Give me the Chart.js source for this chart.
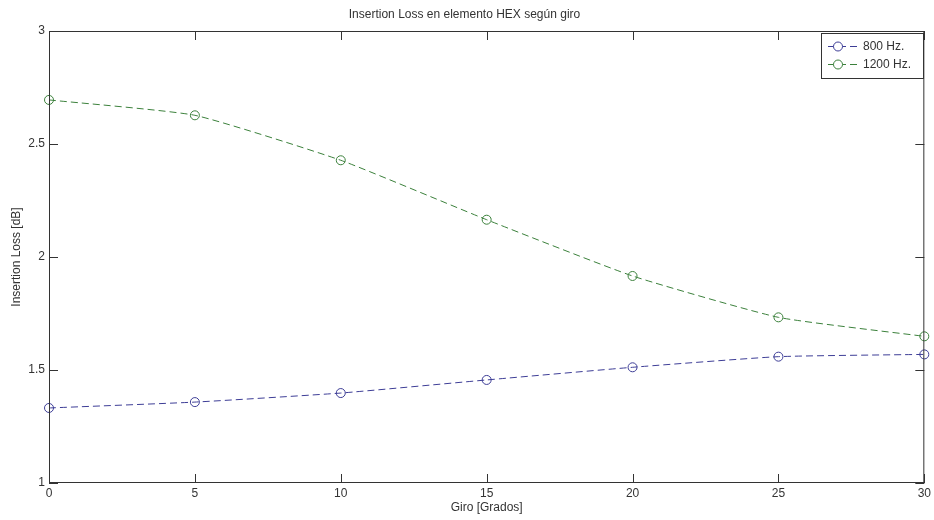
<!DOCTYPE html>
<html>
<head>
<meta charset="utf-8">
<script src="https://cdn.jsdelivr.net/npm/chart.js@4"></script>
<style>
  html, body { margin: 0; padding: 0; background: #fff; }
  #wrap { width: 934px; height: 520px; position: relative; }
</style>
</head>
<body>
<div id="wrap"><canvas id="chart"></canvas></div>
<script>
// rotation angle of the HEX element
const giroGrados = [0, 5, 10, 15, 20, 25, 30];
// insertion loss per frequency, dB
const il800 = [1.332, 1.358, 1.398, 1.456, 1.512, 1.559, 1.569];
const il1200 = [2.695, 2.627, 2.428, 2.165, 1.916, 1.733, 1.649];
const seriesNames = ['800 Hz.', '1200 Hz.'];
const yTicks = [1, 1.5, 2, 2.5, 3];

const AXIS = '#333333';
const FONT = "'Liberation Sans', Arial, sans-serif";

// closed box around the plot with inward tick marks on all four sides,
// plus a boxed legend in the upper right corner
const boxPlugin = {
  id: 'boxAxes',
  afterDatasetsDraw(chart) {
    const { ctx, chartArea: a, scales: { x, y } } = chart;
    const tl = 9;
    ctx.save();
    ctx.strokeStyle = AXIS;
    ctx.lineWidth = 1;
    ctx.strokeRect(a.left + 0.5, a.top + 0.5, a.right - a.left - 1, a.bottom - a.top - 1);
    ctx.beginPath();
    x.ticks.forEach((t, i) => {
      const px = Math.round(x.getPixelForTick(i)) + 0.5;
      ctx.moveTo(px, a.bottom); ctx.lineTo(px, a.bottom - tl);
      ctx.moveTo(px, a.top); ctx.lineTo(px, a.top + tl);
    });
    y.ticks.forEach(t => {
      const py = Math.round(y.getPixelForValue(t.value)) + 0.5;
      ctx.moveTo(a.left, py); ctx.lineTo(a.left + tl, py);
      ctx.moveTo(a.right, py); ctx.lineTo(a.right - tl, py);
    });
    ctx.stroke();

    // legend
    const bx = 821, by = 33, bw = 102, bh = 45;
    ctx.fillStyle = '#fff';
    ctx.fillRect(bx, by, bw, bh);
    ctx.strokeRect(bx + 0.5, by + 0.5, bw, bh);
    ctx.font = '12px ' + FONT;
    ctx.textBaseline = 'middle';
    chart.data.datasets.forEach((ds, i) => {
      const ly = by + 13 + i * 18;
      ctx.strokeStyle = ds.borderColor;
      ctx.setLineDash(ds.borderDash);
      ctx.beginPath();
      ctx.moveTo(828, ly + 0.5); ctx.lineTo(861, ly + 0.5);
      ctx.stroke();
      ctx.setLineDash([]);
      ctx.beginPath();
      ctx.arc(838, ly + 0.5, ds.pointRadius, 0, Math.PI * 2);
      ctx.fillStyle = '#fff';
      ctx.fill();
      ctx.stroke();
      ctx.fillStyle = AXIS;
      ctx.fillText(ds.label, 863, ly + 1);
    });
    ctx.restore();
  }
};

const makeSeries = (label, values, color) => ({
  label,
  data: values,
  borderColor: color,
  borderWidth: 1,
  borderDash: [7, 4],
  tension: 0.15,
  pointStyle: 'circle',
  pointRadius: 4.5,
  pointBorderWidth: 1,
  pointBackgroundColor: 'rgba(255,255,255,0)',
  pointBorderColor: color,
  fill: false
});

new Chart(document.getElementById('chart'), {
  type: 'line',
  data: {
    labels: giroGrados,
    datasets: [
      makeSeries(seriesNames[0], il800, '#3d3d96'),
      makeSeries(seriesNames[1], il1200, '#3b803b')
    ]
  },
  options: {
    responsive: true,
    maintainAspectRatio: false,
    animation: false,
    layout: { padding: { left: 0, right: 5, top: 0, bottom: 0 } },
    scales: {
      x: {
        type: 'category',
        offset: false,
        grid: { display: false, drawTicks: false },
        border: { display: false },
        ticks: { color: AXIS, font: { family: FONT, size: 12 }, padding: 3, maxRotation: 0 },
        title: {
          display: true,
          text: 'Giro [Grados]',
          color: AXIS,
          font: { family: FONT, size: 12 },
          padding: { top: 0, bottom: 5 }
        },
        afterFit: s => { s.height = 37; }
      },
      y: {
        min: 1,
        max: 3,
        afterBuildTicks: s => { s.ticks = yTicks.map(v => ({ value: v })); },
        grid: { display: false, drawTicks: false },
        border: { display: false },
        ticks: {
          color: AXIS,
          font: { family: FONT, size: 12 },
          padding: 4,
          callback: v => String(v)
        },
        title: {
          display: true,
          text: 'Insertion Loss [dB]',
          color: AXIS,
          font: { family: FONT, size: 12 },
          padding: { top: 9, bottom: 0 }
        },
        afterFit: s => { s.width = 49; }
      }
    },
    plugins: {
      legend: { display: false },
      tooltip: { enabled: false },
      title: {
        display: true,
        text: 'Insertion Loss en elemento HEX según giro',
        color: AXIS,
        font: { family: FONT, size: 12, weight: 'normal' },
        padding: { top: 7.5, bottom: 9.1 }
      }
    }
  },
  plugins: [boxPlugin]
});
</script>
</body>
</html>
